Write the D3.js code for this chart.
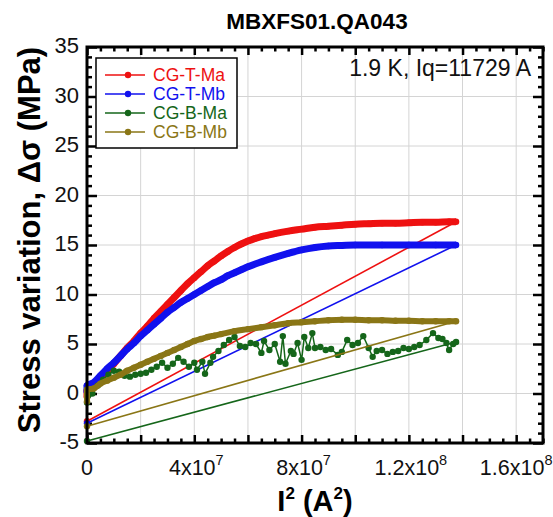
<!DOCTYPE html>
<html>
<head>
<meta charset="utf-8">
<script src="https://cdn.jsdelivr.net/npm/d3@7"></script>
<style>
  body { margin: 0; background: #fff; }
  text { font-family: "Liberation Sans", Arial, sans-serif; }
</style>
</head>
<body>
<div id="chart"></div>
<script>
// I^2 in units of 1e7 A^2, stress in MPa
const names = ["CG-T-Ma", "CG-T-Mb", "CG-B-Ma", "CG-B-Mb"];
const colors = ["#ee1111", "#1111ee", "#15661a", "#8a7616"];

const tMaUp = [[0,-0.4],[0,0.3],[0.25,0.6],[0.5,1.5],[0.75,2.3],[1,3.0],[1.25,3.8],[1.5,4.6],[1.75,5.3],[2,6.1],
  [2.25,6.8],[2.5,7.6],[2.75,8.3],[3,9.0],[3.25,9.7],[3.5,10.4],[3.75,11.1],[4,11.7],[4.25,12.3],[4.5,12.9],
  [4.75,13.4],[5,13.9],[5.25,14.35],[5.5,14.75],[5.75,15.1],[6,15.4],[6.25,15.65],[6.5,15.85],[6.75,16.0],[7,16.15],
  [7.5,16.4],[8,16.6],[8.5,16.8],[9,16.9],[9.5,17.0],[10,17.1],[10.5,17.15],[11,17.2],[11.5,17.2],[12,17.25],
  [12.5,17.3],[13,17.3],[13.5,17.35],[13.76,17.35]];
const tMbUp = [[0,0.1],[0,0.8],[0.25,1.1],[0.5,1.8],[0.75,2.5],[1,3.1],[1.25,3.8],[1.5,4.5],[1.75,5.1],[2,5.8],
  [2.25,6.4],[2.5,7.0],[2.75,7.6],[3,8.2],[3.25,8.7],[3.5,9.2],[3.75,9.6],[4,10.0],[4.25,10.4],[4.5,10.8],
  [4.75,11.2],[5,11.5],[5.25,11.9],[5.5,12.2],[5.75,12.5],[6,12.8],[6.5,13.3],[7,13.75],[7.5,14.15],[8,14.5],
  [8.5,14.75],[9,14.9],[9.5,14.95],[10,15.0],[11,15.0],[12,15.0],[13,15.0],[13.76,15.0]];
const bMaUp = [[0,-0.9],[0.2,0.0],[0.4,0.8],[0.6,1.4],[0.8,1.9],[1,2.3],[1.2,2.2],[1.4,1.8],[1.6,1.7],[1.8,1.9],
  [2,2.0],[2.2,2.1],[2.4,2.4],[2.6,2.7],[2.8,3.1],[3,2.6],[3.2,3.0],[3.4,3.6],[3.6,3.2],[3.8,2.7],[4,3.1],
  [4.1,2.4],[4.3,3.2],[4.4,2.0],[4.6,3.1],[4.7,3.7],[4.9,4.3],[5.1,4.9],[5.3,5.4],[5.5,5.7],[5.7,4.8],[5.9,4.7],
  [6.1,5.1],[6.3,5.0],[6.5,4.1],[6.6,5.3],[6.8,4.4],[7,5.0],[7.2,3.2],[7.3,5.8],[7.4,3.0],[7.6,4.3],[7.7,4.0],
  [7.85,5.1],[8,3.4],[8.1,5.7],[8.25,4.6],[8.4,6.1],[8.5,4.6],[8.7,4.7],[8.9,4.4],[9.1,4.5],[9.35,3.9],[9.5,4.2],
  [9.7,5.4],[9.9,4.9],[10.1,5.1],[10.3,5.8],[10.5,4.6],[10.65,3.7],[10.8,4.3],[11,4.4],[11.2,4.0],[11.4,4.2],
  [11.6,4.3],[11.8,4.6],[12,4.5],[12.2,4.7],[12.4,4.9],[12.65,5.4],[12.9,6.1],[13.1,5.6],[13.25,5.5],[13.4,5.1],
  [13.5,4.4],[13.65,5.0],[13.76,5.2]];
const bMbUp = [[0,-0.8],[0,0.4],[0.25,0.5],[0.5,1.0],[0.75,1.3],[1,1.6],[1.25,1.9],[1.5,2.3],[1.75,2.6],[2,2.9],
  [2.25,3.2],[2.5,3.5],[2.75,3.8],[3,4.1],[3.25,4.4],[3.5,4.7],[3.75,5.0],[4,5.3],[4.25,5.5],[4.5,5.7],[4.75,5.85],
  [5,6.0],[5.5,6.3],[6,6.5],[6.5,6.7],[7,6.9],[7.5,7.1],[8,7.2],[8.5,7.3],[9,7.4],[9.5,7.45],[10,7.45],[10.5,7.4],
  [11,7.4],[11.5,7.35],[12,7.35],[12.5,7.3],[13,7.3],[13.5,7.3],[13.76,7.3]];
// value at zero current after the ramp
const afterZero = [-2.8, -3.0, -4.8, -3.3];

const xLabels = [[0, "0", ""], [4, "4x10", "7"], [8, "8x10", "7"], [12, "1.2x10", "8"], [16, "1.6x10", "8"]];
const yTicks = [-5, 0, 5, 10, 15, 20, 25, 30, 35];

const series = [tMaUp, tMbUp, bMaUp, bMbUp];
const bandWidth = [7, 7, 1.5, 6];

const W = 553, H = 517;
const L = 87, R = 543, T = 47, B = 443;

const svg = d3.select("#chart").append("svg")
  .attr("width", W).attr("height", H);

const x = d3.scaleLinear().domain([0, 17]).range([L, R]);
const y = d3.scaleLinear().domain([-5, 35]).range([B, T]);

// grid
svg.append("g").selectAll("line")
  .data(d3.range(2, 17, 2))
  .enter().append("line")
  .attr("x1", d => x(d)).attr("x2", d => x(d))
  .attr("y1", T).attr("y2", B)
  .attr("stroke", "#d4d4d4").attr("stroke-width", 1);
svg.append("g").selectAll("line")
  .data(d3.range(0, 35, 5))
  .enter().append("line")
  .attr("x1", L).attr("x2", R)
  .attr("y1", d => y(d)).attr("y2", d => y(d))
  .attr("stroke", "#d4d4d4").attr("stroke-width", 1);

// ticks on all four sides, pointing inward
const xMinor = d3.range(0, 17.01, 0.5).filter(d => d % 2 !== 0);
const xMajor = d3.range(0, 17, 2);
const yMinor = d3.range(-5, 35.01, 1).filter(d => d % 5 !== 0);
const yMajor = yTicks;

function ticks(axis, vals, size) {
  return axis.tickValues(vals).tickSize(size).tickFormat("").tickSizeOuter(0);
}
function addAxis(axis, tr) {
  const g = svg.append("g").attr("transform", tr).call(axis);
  g.select(".domain").remove();
  g.selectAll("line").attr("stroke", "#000").attr("stroke-width", 2.5);
}
addAxis(ticks(d3.axisBottom(x), xMinor, -4.5), `translate(0,${B})`);
addAxis(ticks(d3.axisBottom(x), xMajor, -8), `translate(0,${B})`);
addAxis(ticks(d3.axisTop(x), xMinor, -4.5), `translate(0,${T})`);
addAxis(ticks(d3.axisTop(x), xMajor, -8), `translate(0,${T})`);
addAxis(ticks(d3.axisLeft(y), yMinor, -5), `translate(${L},0)`);
addAxis(ticks(d3.axisLeft(y), yMajor, -10), `translate(${L},0)`);
addAxis(ticks(d3.axisRight(y), yMinor, -5), `translate(${R},0)`);
addAxis(ticks(d3.axisRight(y), yMajor, -10), `translate(${R},0)`);

// data
const line = d3.line().x(d => x(d[0])).y(d => y(d[1]));
const smooth = d3.line().curve(d3.curveMonotoneX).x(d => x(d[0])).y(d => y(d[1]));
series.forEach((s, i) => {
  const g = svg.append("g");
  const last = s[s.length - 1];
  g.append("path")
    .attr("d", line([last, [0, afterZero[i]]]))
    .attr("fill", "none").attr("stroke", colors[i]).attr("stroke-width", 1.6);
  g.append("path")
    .attr("d", i === 2 ? line(s) : smooth(s))
    .attr("fill", "none").attr("stroke", colors[i])
    .attr("stroke-width", bandWidth[i]).attr("stroke-linejoin", "round");
  g.selectAll("circle")
    .data(s.concat([[0, afterZero[i]]]))
    .enter().append("circle")
    .attr("cx", d => x(d[0])).attr("cy", d => y(d[1]))
    .attr("r", 3.2).attr("fill", colors[i]);
});

// frame
svg.append("rect")
  .attr("x", L).attr("y", T).attr("width", R - L).attr("height", B - T)
  .attr("fill", "none").attr("stroke", "#000").attr("stroke-width", 3);

// tick labels
svg.append("g").selectAll("text")
  .data(yTicks)
  .enter().append("text")
  .attr("x", 79).attr("y", d => y(d) + 6)
  .attr("text-anchor", "end")
  .attr("font-size", 22)
  .attr("fill", "#111")
  .text(d => d);

const xl = svg.append("g").selectAll("text")
  .data(xLabels)
  .enter().append("text")
  .attr("x", d => x(d[0]) + (d[2] && d[0] < 16 ? 2 : 0)).attr("y", 475)
  .attr("text-anchor", "middle")
  .attr("font-size", 21.5)
  .attr("fill", "#111");
xl.append("tspan").text(d => d[1]);
xl.append("tspan").attr("font-size", 14.5).attr("dy", -10).text(d => d[2]);

// titles
svg.append("text")
  .attr("x", (L + R) / 2 + 2).attr("y", 29)
  .attr("text-anchor", "middle")
  .attr("font-size", 22.5).attr("font-weight", "bold")
  .text("MBXFS01.QA043");

const xt = svg.append("text")
  .attr("x", 315).attr("y", 511)
  .attr("text-anchor", "middle")
  .attr("font-size", 29).attr("font-weight", "bold");
xt.append("tspan").text("I");
xt.append("tspan").attr("font-size", 17).attr("dy", -12).text("2");
xt.append("tspan").attr("dy", 12).text(" (A");
xt.append("tspan").attr("font-size", 17).attr("dy", -12).text("2");
xt.append("tspan").attr("dy", 12).text(")");

svg.append("text")
  .attr("transform", "translate(40,240) rotate(-90)")
  .attr("text-anchor", "middle")
  .attr("font-size", 31).attr("font-weight", "bold")
  .text("Stress variation, Δσ (MPa)");

svg.append("text")
  .attr("x", 531).attr("y", 76)
  .attr("text-anchor", "end")
  .attr("font-size", 23)
  .attr("fill", "#111")
  .text("1.9 K, Iq=11729 A");

// legend
const leg = svg.append("g");
leg.append("rect")
  .attr("x", 96).attr("y", 58).attr("width", 141).attr("height", 90)
  .attr("fill", "#fff").attr("stroke", "#000").attr("stroke-width", 1.5);
names.forEach((n, i) => {
  const ly = 75 + i * 19;
  leg.append("line")
    .attr("x1", 105).attr("x2", 145).attr("y1", ly).attr("y2", ly)
    .attr("stroke", colors[i]).attr("stroke-width", 1.6);
  leg.append("circle").attr("cx", 128).attr("cy", ly).attr("r", 3.2).attr("fill", colors[i]);
  leg.append("text")
    .attr("x", 153).attr("y", ly + 6)
    .attr("font-size", 17.5).attr("fill", colors[i])
    .text(n);
});
</script>
</body>
</html>
